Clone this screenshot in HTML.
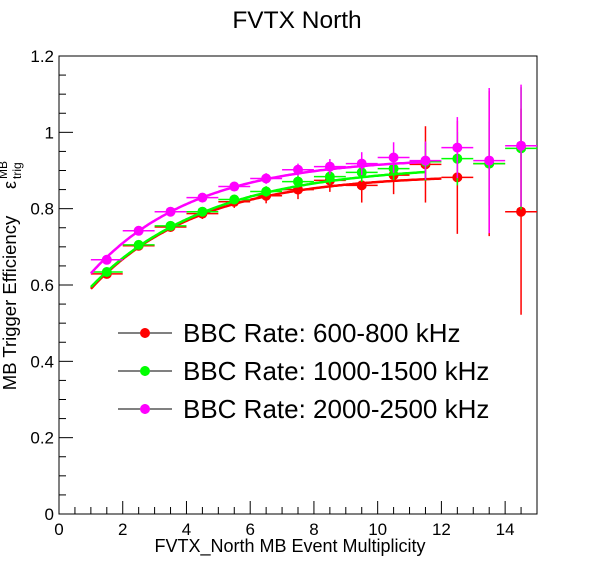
<!DOCTYPE html>
<html><head><meta charset="utf-8"><style>
body{margin:0;background:#fff;}
svg{display:block;font-family:"Liberation Sans",sans-serif;}
</style></head><body>
<svg id="c" width="596" height="572"></svg>
<script>
const xCenters=[1.5,2.5,3.5,4.5,5.5,6.5,7.5,8.5,9.5,10.5,11.5,12.5,13.5,14.5];
const redVals=[0.629,0.703,0.752,0.787,0.818,0.834,0.850,0.874,0.861,0.888,0.916,0.882,0.918,0.792];
const redErr=[0.01,0.01,0.012,0.014,0.016,0.02,0.025,0.03,0.045,0.05,0.1,0.148,0.19,0.27];
const greenVals=[0.634,0.705,0.755,0.792,0.824,0.845,0.871,0.884,0.895,0.905,0.923,0.931,0.918,0.958];
const greenErr=[0.008,0.008,0.01,0.01,0.012,0.014,0.016,0.02,0.025,0.03,0.05,0.07,0.11,0.16];
const magVals=[0.666,0.742,0.792,0.829,0.858,0.879,0.902,0.910,0.918,0.934,0.926,0.960,0.926,0.965];
const magErr=[0.008,0.008,0.01,0.01,0.012,0.014,0.016,0.02,0.03,0.04,0.05,0.08,0.19,0.16];
const fitRed=[0.89,0.405,3.33,1.0,12.0];
const fitGreen=[0.915,0.419,3.72,1.0,11.5];
const fitMag=[0.935,0.412,3.31,1.0,11.4];
const xTicks=[0,2,4,6,8,10,12,14];
const yTicks=[0,0.2,0.4,0.6,0.8,1,1.2];
const legendLabels=["BBC Rate: 600-800 kHz","BBC Rate: 1000-1500 kHz","BBC Rate: 2000-2500 kHz"];

const NS="http://www.w3.org/2000/svg";
const svg=document.getElementById('c');
const X0=59,X1=537,Y0=514,Y1=56;
const sx=v=>X0+v*(X1-X0)/15;
const sy=v=>Y0-v*(Y0-Y1)/1.2;
function mk(t,a,p){const e=document.createElementNS(NS,t);for(const k in a)e.setAttribute(k,a[k]);(p||svg).appendChild(e);return e;}

let e;
e=mk('rect',{x:X0,y:Y1,width:X1-X0,height:Y0-Y1,fill:'none',stroke:'#000','stroke-width':1});



for(let i=0;i<=30;i++){const v=i*0.5;const maj=(i%4==0);
 e=mk('line',{x1:sx(v),x2:sx(v),y1:Y0,y2:Y0-(maj?13:7),stroke:'#000'});
 
 }
xTicks.forEach(v=>{e=mk('text',{x:sx(v),y:Y0+21,'font-size':17,'text-anchor':'middle'});e.textContent=v;
 
 });
for(let i=0;i<=24;i++){const v=i*0.05;const maj=(i%4==0);
 e=mk('line',{x1:X0,x2:X0+(maj?14:7),y1:sy(v),y2:sy(v),stroke:'#000'});
 
 }
yTicks.forEach(v=>{e=mk('text',{x:X0-5,y:sy(v)+6,'font-size':17,'text-anchor':'end'});e.textContent=v;
 
 });

e=mk('text',{x:297,y:28,'font-size':24.5,'text-anchor':'middle'});e.textContent='FVTX North';


e=mk('text',{x:290,y:552,'font-size':18,'text-anchor':'middle'});e.textContent='FVTX_North MB Event Multiplicity';


const yt=mk('g',{transform:'translate(16,303) rotate(-90)'});


e=mk('text',{x:0,y:0,'font-size':18.5,'text-anchor':'middle'},yt);e.textContent='MB Trigger Efficiency';
e=mk('text',{x:114,y:0,'font-size':18},yt);e.textContent='ε';
e=mk('text',{x:124,y:5,'font-size':12},yt);e.textContent='trig';
e=mk('text',{x:124,y:-9,'font-size':12},yt);e.textContent='MB';

function series(vals,errs,fit,col,name){
 const g=mk('g',{});
 
 
 let d='';
 for(let x=fit[3];x<=fit[4]+1e-9;x+=0.05){const y=fit[0]-fit[1]*Math.exp(-x/fit[2]);d+=(d?'L':'M')+sx(x).toFixed(1)+','+sy(y).toFixed(1);}
 e=mk('path',{d:d,fill:'none',stroke:col,'stroke-width':2.5},g);
 
 
 xCenters.forEach((x,i)=>{const v=vals[i],er=errs[i];
  e=mk('line',{x1:sx(x-0.5),x2:sx(x+0.5),y1:sy(v),y2:sy(v),stroke:col,'stroke-width':1.5},g);
  
  
  e=mk('line',{x1:sx(x),x2:sx(x),y1:sy(v-er),y2:sy(v+er),stroke:col,'stroke-width':1.5},g);
  
  
  e=mk('circle',{cx:sx(x),cy:sy(v),r:5,fill:col},g);
  
  
 });
}
series(redVals,redErr,fitRed,'#ff0000','red');
series(greenVals,greenErr,fitGreen,'#00ff00','green');
series(magVals,magErr,fitMag,'#ff00ff','magenta');

const cols=['#ff0000','#00ff00','#ff00ff'];
legendLabels.forEach((l,i)=>{const y=333+i*38;
 const g=mk('g',{});
 
 
 mk('line',{x1:118,x2:172,y1:y,y2:y,stroke:'#000','stroke-width':1},g);
 mk('line',{x1:145,x2:145,y1:y-5,y2:y+5,stroke:'#000','stroke-width':1},g);
 mk('circle',{cx:145,cy:y,r:5,fill:cols[i]},g);
 const t=mk('text',{x:183,y:y+9,'font-size':26},g);t.textContent=l;
});
</script>
</body></html>
